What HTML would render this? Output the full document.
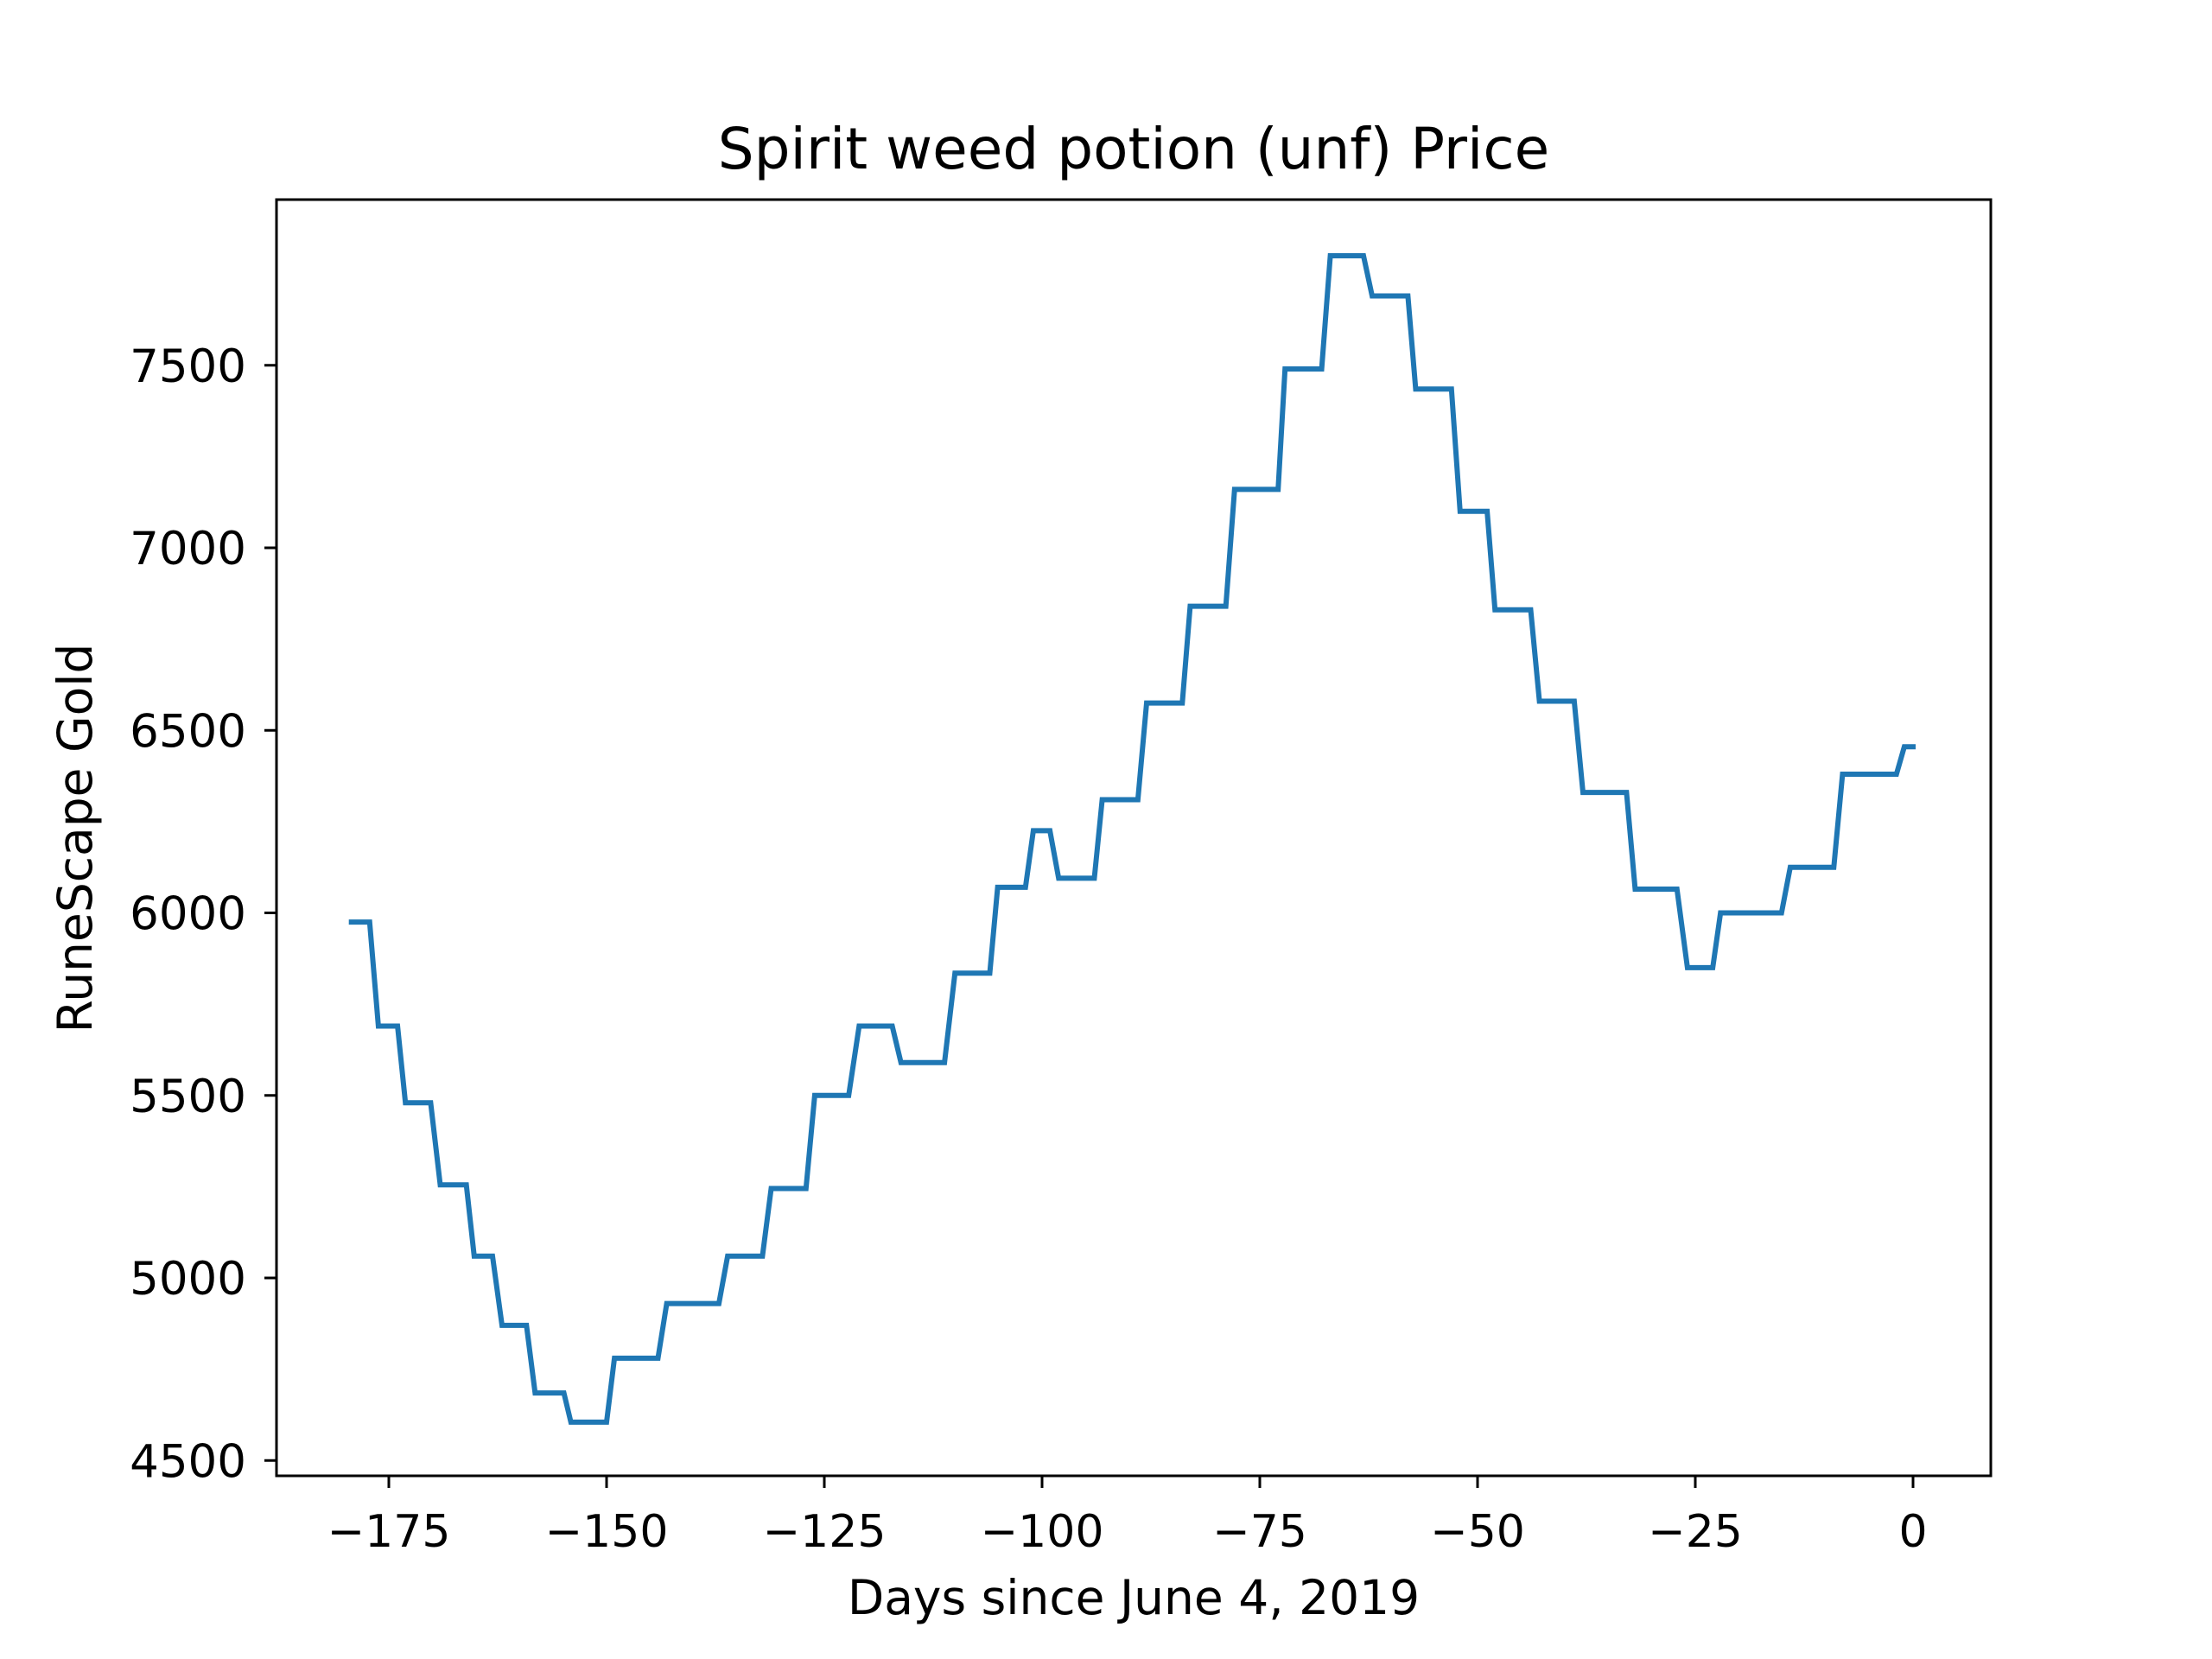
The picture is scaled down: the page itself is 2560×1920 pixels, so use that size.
<!DOCTYPE html>
<html><head><meta charset="utf-8"><style>
html,body{margin:0;padding:0;background:#fff;}
svg{display:block;font-family:"DejaVu Sans","Liberation Sans",sans-serif;}
</style></head><body>
<svg id="chart" width="2560" height="1920" viewBox="0 0 2560 1920" xmlns="http://www.w3.org/2000/svg">
<rect width="2560" height="1920" fill="#fff"/>
<text x="1312" y="195" font-size="66" text-anchor="middle">Spirit weed potion (unf) Price</text>
<text x="1312" y="1868" font-size="55" text-anchor="middle">Days since June 4, 2019</text>
<text x="0" y="0" font-size="55" text-anchor="middle" transform="translate(106,970) rotate(-90)">RuneScape Gold</text>
<g id="plot"></g>
<rect x="320" y="231" width="1984" height="1477" fill="none" stroke="#000" stroke-width="3"/>
</svg>
<script>
const days = [-179.3,-177.2,-176.2,-174.0,-173.1,-170.2,-169.1,-166.1,-165.2,-163.1,-162.0,-159.2,-158.2,-154.9,-154.1,-150.0,-149.1,-144.1,-143.1,-137.1,-136.1,-132.1,-131.1,-127.1,-126.1,-122.2,-121.0,-117.2,-116.2,-111.2,-110.0,-106.0,-105.1,-101.9,-101.0,-99.1,-98.1,-94.0,-93.1,-89.0,-88.0,-83.9,-83.0,-78.9,-77.9,-72.9,-72.1,-67.9,-66.9,-63.1,-62.1,-58.0,-57.1,-53.0,-52.0,-48.9,-48.0,-43.9,-42.9,-38.9,-37.9,-32.9,-31.9,-27.1,-25.9,-23.0,-22.1,-15.1,-14.1,-9.1,-8.1,-1.9,-1.0,0];
const levels = [5975,5690,5480,5255,5060,4870,4685,4605,4780,4930,5060,5245,5500,5690,5590,5835,6070,6225,6095,6310,6575,6840,7160,7490,7800,7690,7435,7100,6830,6580,6330,6065,5850,6000,6125,6380,6455];
const xTicks = [-175,-150,-125,-100,-75,-50,-25,0];
const yTicks = [4500,5000,5500,6000,6500,7000,7500];
const prices = [];
levels.forEach(v=>{prices.push(v);prices.push(v);});
prices.length = days.length;

function xs(d){return 2214 + d*10.08;}
function ys(v){return 634 + (7000-v)*0.4225;}
const NS="http://www.w3.org/2000/svg";
const g=document.getElementById('plot');
function mk(t,a){const e=document.createElementNS(NS,t);for(const k in a)e.setAttribute(k,a[k]);g.appendChild(e);return e;}
xTicks.forEach(t=>{
  const l=mk('line',{x1:xs(t),x2:xs(t),y1:1708,y2:1722,stroke:'#000','stroke-width':3});
  
  
  const tx=mk('text',{x:xs(t),y:1790,'font-size':52,'text-anchor':'middle'});
  tx.textContent=(t<0?'\u2212'+(-t):''+t);
  
  
});
yTicks.forEach(t=>{
  const l=mk('line',{x1:306,x2:320,y1:ys(t),y2:ys(t),stroke:'#000','stroke-width':3});
  
  
  const tx=mk('text',{x:285,y:ys(t)+19,'font-size':53,'text-anchor':'end'});
  tx.textContent=''+t;
  
  
});
const pts=days.map((d,i)=>xs(d).toFixed(1)+','+ys(prices[i]).toFixed(1)).join(' ');
const line=mk('polyline',{points:pts,fill:'none',stroke:'#1f77b4','stroke-width':6,'stroke-linejoin':'miter','stroke-linecap':'square'});


</script>
</body></html>
